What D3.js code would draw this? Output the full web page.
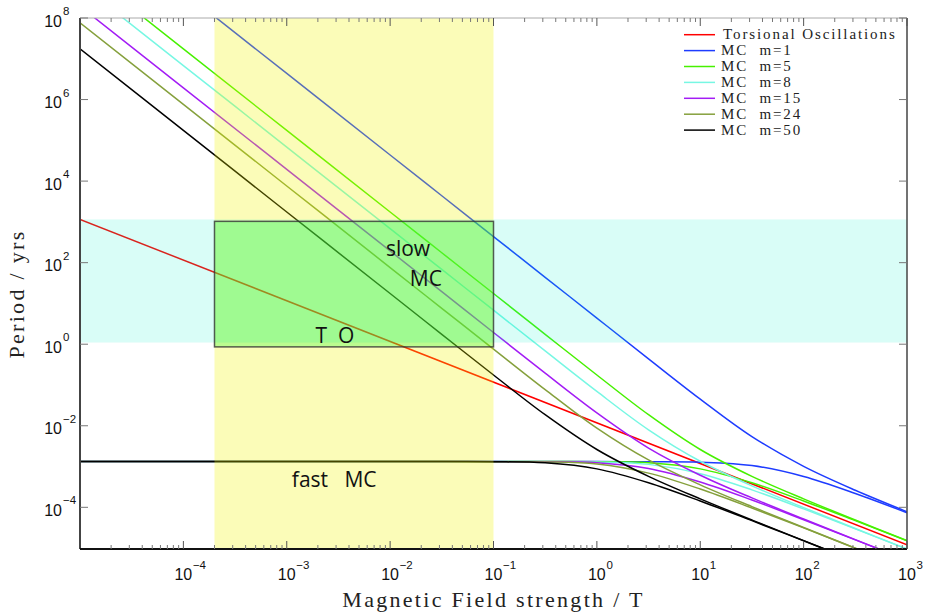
<!DOCTYPE html>
<html lang="en">
<head>
<meta charset="utf-8">
<title>MC waves vs torsional oscillations</title>
<script src="https://cdn.jsdelivr.net/npm/d3@7"></script>
<style>
body { margin: 0; background: #fff; }
.tick-lab { font-family: "Liberation Sans", Arial, sans-serif; fill: #111; }
.ax-title { font-family: "Liberation Serif", serif; font-size: 22px; letter-spacing: 2.3px; fill: #222; }
.legend text { font-family: "Liberation Serif", serif; font-size: 15px; letter-spacing: 1.9px; fill: #222; }
.note { font-family: "Open Sans", sans-serif; font-size: 21px; fill: #111; white-space: pre; }
</style>
</head>
<body>
<svg width="927" height="615"></svg>
<script>
// field strength grid (T) the curves were read at
var fieldB = [1e-5, 1e-4, 1e-3, 1e-2, 3.16e-2, 1e-1, 3.16e-1, 1, 3.16, 10, 31.6, 100, 316, 1000];

// torsional oscillations (straight line)
var toB = [1e-5, 1e3];
var toPeriod = [1.15e3, 1.2e-5];

// MC modes, slow and fast branch periods (yrs) at fieldB
var slowM1  = [4.37e10, 4.37e8, 4.37e6, 4.37e4, 4.37e3, 4.37e2, 43.7, 4.37, 0.438, 4.50e-2, 5.42e-3, 1.01e-3, 2.62e-4, 7.80e-5];
var fastM1  = [1.32e-3, 1.32e-3, 1.32e-3, 1.32e-3, 1.32e-3, 1.32e-3, 1.32e-3, 1.32e-3, 1.315e-3, 1.28e-3, 1.06e-3, 5.71e-4, 2.19e-4, 7.36e-5];
var slowM5  = [1.75e9, 1.75e7, 1.75e5, 1.75e3, 175, 17.5, 1.75, 0.176, 1.87e-2, 2.62e-3, 5.75e-4, 1.61e-4, 4.89e-5, 1.52e-5];
var fastM5  = [1.32e-3, 1.32e-3, 1.32e-3, 1.32e-3, 1.32e-3, 1.32e-3, 1.32e-3, 1.31e-3, 1.23e-3, 8.77e-4, 4.00e-4, 1.43e-4, 4.71e-5, 1.51e-5];
var slowM8  = [6.82e8, 6.82e6, 6.82e4, 682, 68.2, 6.82, 0.684, 6.95e-2, 7.96e-3, 1.35e-3, 3.36e-4, 9.84e-5, 3.03e-5, 9.51e-6];
var fastM8  = [1.32e-3, 1.32e-3, 1.32e-3, 1.32e-3, 1.32e-3, 1.32e-3, 1.315e-3, 1.29e-3, 1.13e-3, 6.67e-4, 2.68e-4, 9.14e-5, 2.96e-5, 9.44e-6];
var slowM15 = [1.94e8, 1.94e6, 1.94e4, 194, 19.4, 1.94, 0.195, 2.07e-2, 2.84e-3, 6.12e-4, 1.70e-4, 5.15e-5, 1.61e-5, 5.07e-6];
var fastM15 = [1.32e-3, 1.32e-3, 1.32e-3, 1.32e-3, 1.32e-3, 1.32e-3, 1.31e-3, 1.24e-3, 8.99e-4, 4.18e-4, 1.51e-4, 4.97e-5, 1.59e-5, 5.05e-6];
var slowM24 = [7.59e7, 7.59e5, 7.59e3, 75.9, 7.59, 0.760, 7.71e-2, 8.73e-3, 1.45e-3, 3.56e-4, 1.04e-4, 3.20e-5, 1.00e-5, 3.17e-6];
var fastM24 = [1.32e-3, 1.32e-3, 1.32e-3, 1.32e-3, 1.32e-3, 1.315e-3, 1.30e-3, 1.15e-3, 6.90e-4, 2.81e-4, 9.64e-5, 3.13e-5, 9.95e-6, 3.16e-6];
var slowM50 = [1.75e7, 1.75e5, 1.75e3, 17.5, 1.75, 0.176, 1.87e-2, 2.62e-3, 5.75e-4, 1.61e-4, 4.89e-5, 1.52e-5, 4.82e-6, 1.52e-6];
var fastM50 = [1.32e-3, 1.32e-3, 1.32e-3, 1.32e-3, 1.32e-3, 1.31e-3, 1.23e-3, 8.77e-4, 4.00e-4, 1.43e-4, 4.71e-5, 1.51e-5, 4.79e-6, 1.51e-6];

var modeNames  = ["MC  m=1", "MC  m=5", "MC  m=8", "MC  m=15", "MC  m=24", "MC  m=50"];
var modeColors = ["#1e3cff", "#47f000", "#77f7e3", "#a31cf5", "#85a03c", "#000000"];
var slowSets = [slowM1, slowM5, slowM8, slowM15, slowM24, slowM50];
var fastSets = [fastM1, fastM5, fastM8, fastM15, fastM24, fastM50];

// shaded regions
var yellowBand = [2e-4, 1e-1];        // field range
var cyanBand   = [1.1, 1.15e3];       // period range
var greenBoxB  = [2e-4, 1e-1];
var greenBoxP  = [0.86, 1.03e3];

var xTicks = [1e-4, 1e-3, 1e-2, 1e-1, 1, 10, 100, 1000];
var xTickExp = ["\u22124", "\u22123", "\u22122", "\u22121", "0", "1", "2", "3"];
var yTicks = [1e-4, 1e-2, 1, 1e2, 1e4, 1e6, 1e8];
var yTickExp = ["\u22124", "\u22122", "0", "2", "4", "6", "8"];

var svg = d3.select("svg");
var L = 80, R = 907, T = 18, B = 549;

var x = d3.scaleLog().domain([1e-5, 1e3]).range([L, R]);
var y = d3.scaleLog().domain([9.5e-6, 1e8]).range([B, T]);

svg.append("clipPath").attr("id", "plotclip")
  .append("rect").attr("x", L).attr("y", T).attr("width", R - L).attr("height", B - T);

var plot = svg.append("g").attr("clip-path", "url(#plotclip)");

var line = d3.line()
  .x(function(d) { return x(d[0]); })
  .y(function(d) { return y(d[1]); })
  .curve(d3.curveCatmullRom.alpha(0.5));

function pairs(xs, ys) { return xs.map(function(v, i) { return [v, ys[i]]; }); }

// curves, red first, black last
plot.append("path").attr("d", line(pairs(toB, toPeriod)))
  .attr("fill", "none").attr("stroke", "#ff0000").attr("stroke-width", 1.5);

modeColors.forEach(function(c, i) {
  [slowSets[i], fastSets[i]].forEach(function(s) {
    plot.append("path").attr("d", line(pairs(fieldB, s)))
      .attr("fill", "none").attr("stroke", c).attr("stroke-width", 1.5);
  });
});

// translucent patches drawn over the curves
plot.append("rect")
  .attr("x", x(yellowBand[0])).attr("y", T)
  .attr("width", x(yellowBand[1]) - x(yellowBand[0])).attr("height", B - T)
  .attr("fill", "rgb(240,245,0)").attr("fill-opacity", 0.28);

plot.append("rect")
  .attr("x", L).attr("y", y(cyanBand[1]))
  .attr("width", R - L).attr("height", y(cyanBand[0]) - y(cyanBand[1]))
  .attr("fill", "rgb(0,240,200)").attr("fill-opacity", 0.15);

plot.append("rect")
  .attr("x", x(greenBoxB[0])).attr("y", y(greenBoxP[1]))
  .attr("width", x(greenBoxB[1]) - x(greenBoxB[0])).attr("height", y(greenBoxP[0]) - y(greenBoxP[1]))
  .attr("fill", "rgb(20,250,40)").attr("fill-opacity", 0.28)
  .attr("stroke", "#333").attr("stroke-opacity", 0.8).attr("stroke-width", 1.5);

// annotations
function note(txt, bx, py) {
  svg.append("text").attr("class", "note").attr("x", x(bx)).attr("y", y(py)).text(txt);
}
note("slow", 9.1e-3, 147);
note("MC", 1.55e-2, 27);
note("T  O", 1.9e-3, 1.07);
note("fast   MC", 1.12e-3, 3.2e-4);

// frame
var frame = svg.append("g");
frame.append("line").attr("x1", L).attr("x2", R).attr("y1", T).attr("y2", T).attr("stroke", "#aaa").attr("stroke-width", 1);
frame.append("line").attr("x1", R).attr("x2", R).attr("y1", T).attr("y2", B).attr("stroke", "#444").attr("stroke-width", 1.5);
frame.append("line").attr("x1", L).attr("x2", L).attr("y1", T).attr("y2", B).attr("stroke", "#444").attr("stroke-width", 2);
frame.append("line").attr("x1", L).attr("x2", R).attr("y1", B).attr("y2", B).attr("stroke", "#111").attr("stroke-width", 2);

// x ticks, major and minor, bottom and top
var minor = [];
for (var e = -5; e < 3; e++) for (var k = 2; k <= 9; k++) minor.push(k * Math.pow(10, e));
minor.forEach(function(v) {
  frame.append("line").attr("x1", x(v)).attr("x2", x(v)).attr("y1", B).attr("y2", B - 4).attr("stroke", "#777");
  frame.append("line").attr("x1", x(v)).attr("x2", x(v)).attr("y1", T).attr("y2", T + 4).attr("stroke", "#777");
});
xTicks.forEach(function(v, i) {
  frame.append("line").attr("x1", x(v)).attr("x2", x(v)).attr("y1", B).attr("y2", B - 8).attr("stroke", "#555");
  frame.append("line").attr("x1", x(v)).attr("x2", x(v)).attr("y1", T).attr("y2", T + 8).attr("stroke", "#555");
  frame.append("text").attr("class", "tick-lab").attr("x", x(v)).attr("y", 580)
    .attr("text-anchor", "middle").attr("font-size", 16).text("10");
  frame.append("text").attr("class", "tick-lab").attr("x", x(v) + 9.5).attr("y", 569)
    .attr("font-size", 11.5).text(xTickExp[i]);
});

// y ticks
yTicks.forEach(function(v, i) {
  frame.append("line").attr("x1", L).attr("x2", L + 8).attr("y1", y(v)).attr("y2", y(v)).attr("stroke", "#777");
  frame.append("line").attr("x1", R).attr("x2", R - 8).attr("y1", y(v)).attr("y2", y(v)).attr("stroke", "#777");
  frame.append("text").attr("class", "tick-lab").attr("x", 62).attr("y", y(v) + 8.5)
    .attr("text-anchor", "end").attr("font-size", 16).text("10");
  frame.append("text").attr("class", "tick-lab").attr("x", 63).attr("y", y(v) - 3)
    .attr("font-size", 11.5).text(yTickExp[i]);
});

// axis titles
svg.append("text").attr("class", "ax-title").attr("x", (L + R) / 2).attr("y", 607)
  .attr("text-anchor", "middle").text("Magnetic Field strength / T");
svg.append("text").attr("class", "ax-title").attr("text-anchor", "middle")
  .attr("transform", "translate(24," + 294 + ") rotate(-90)").text("Period / yrs");

// legend
var legNames = ["Torsional Oscillations"].concat(modeNames);
var legColors = ["#ff0000"].concat(modeColors);
var leg = svg.append("g").attr("class", "legend");
legNames.forEach(function(n, i) {
  var ly = 34.7 + i * 15.9;
  leg.append("line").attr("x1", 684).attr("x2", 715).attr("y1", ly).attr("y2", ly)
    .attr("stroke", legColors[i]).attr("stroke-width", 1.5);
  leg.append("text").attr("x", i === 0 ? 723 : 721).attr("y", ly + 4.5)
    .style("white-space", "pre").text(n);
});
</script>
</body>
</html>
